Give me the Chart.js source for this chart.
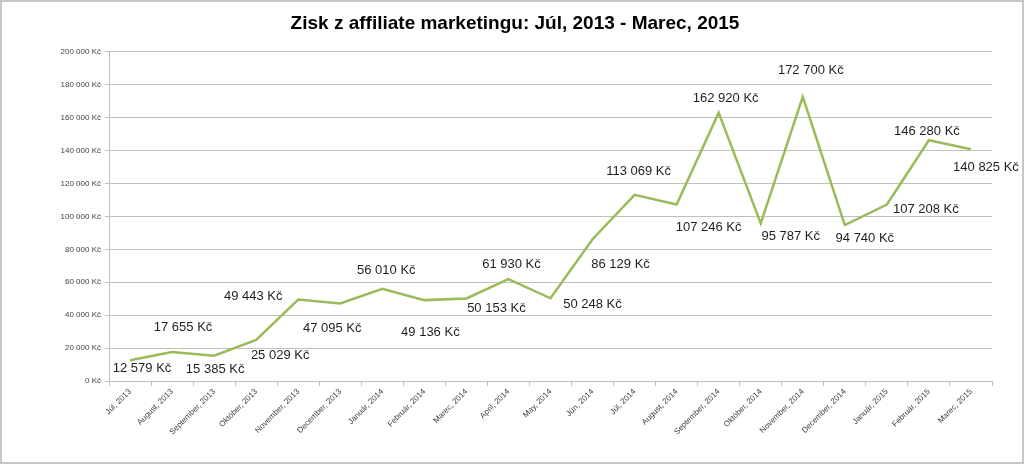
<!DOCTYPE html>
<html>
<head>
<meta charset="utf-8">
<script src="https://cdn.jsdelivr.net/npm/chart.js@4/dist/chart.umd.min.js"></script>
<style>
  html, body { margin: 0; padding: 0; background: #fff; }
  canvas { display: block; }
</style>
</head>
<body>
<canvas id="zisk" width="1024" height="464"></canvas>
<script>
// mesiace (kategórie)
const months = [
  'Júl, 2013', 'August, 2013', 'September, 2013', 'Október, 2013', 'November, 2013',
  'December, 2013', 'Január, 2014', 'Február, 2014', 'Marec, 2014', 'April, 2014',
  'May, 2014', 'Jún, 2014', 'Júl, 2014', 'August, 2014', 'September, 2014',
  'Október, 2014', 'November, 2014', 'December, 2014', 'Január, 2015', 'Február, 2015',
  'Marec, 2015'
];
// zisk v Kč
const profit = [
  12579, 17655, 15385, 25029, 49443, 47095, 56010, 49136, 50153, 61930,
  50248, 86129, 113069, 107246, 162920, 95787, 172700, 94740, 107208, 146280,
  140825
];
// os Y
const yMin = 0;
const yMax = 200000;
const yStep = 20000;

// posun popiskov oproti bodu (px)
const labelDx = [12, 11, 1, 24, -45, -8, 4, 6, 30, 3, 42, 28, 4, 32, 7, 30, 8, 20, 39, -2, 15];
const labelDy = [8, -25, 14, 16, -3, 25, -18, 32, 10, -15, 6, 25, -23, 23, -14, 13, -26, 13, 5, -9, 18];

function kc(v) {
  return String(v).replace(/\B(?=(\d{3})+(?!\d))/g, ' ') + ' Kč';
}

const GRID = '#bfbfbf';

const frame = {
  id: 'frame',
  afterDraw(chart) {
    const c = chart.ctx;
    c.save();
    c.strokeStyle = '#c6c6c6';
    c.lineWidth = 2;
    c.strokeRect(1, 1, chart.width - 2, chart.height - 2);
    c.restore();
  }
};

const valueLabels = {
  id: 'valueLabels',
  afterDatasetsDraw(chart) {
    const c = chart.ctx;
    const meta = chart.getDatasetMeta(0);
    c.save();
    c.font = '13px "Liberation Sans", Arial, sans-serif';
    c.fillStyle = '#1f1f1f';
    c.textAlign = 'center';
    c.textBaseline = 'middle';
    meta.data.forEach((pt, i) => {
      c.fillText(kc(profit[i]), pt.x + labelDx[i], pt.y + labelDy[i]);
    });
    c.restore();
  }
};

new Chart(document.getElementById('zisk'), {
  type: 'line',
  data: {
    labels: months,
    datasets: [{
      data: profit,
      borderColor: '#9bbb59',
      borderWidth: 2.5,
      pointRadius: 0,
      tension: 0
    }]
  },
  options: {
    responsive: false,
    animation: false,
    devicePixelRatio: 1,
    layout: { padding: { left: 38, right: 32, top: 0, bottom: 0 } },
    plugins: {
      legend: { display: false },
      tooltip: { enabled: false },
      title: {
        display: true,
        text: 'Zisk z affiliate marketingu: Júl, 2013 - Marec, 2015',
        color: '#000',
        font: { family: '"Liberation Sans", Arial, sans-serif', size: 19, weight: 'bold' },
        padding: { top: 12, bottom: 17 }
      }
    },
    scales: {
      x: {
        offset: true,
        grid: { offset: true, drawOnChartArea: false, color: GRID, tickLength: 5 },
        border: { color: GRID },
        ticks: {
          autoSkip: false,
          minRotation: 45,
          maxRotation: 45,
          padding: 1,
          color: '#404040',
          font: { family: '"Liberation Sans", Arial, sans-serif', size: 8 }
        },
        afterFit(scale) { scale.height = 83; }
      },
      y: {
        min: yMin,
        max: yMax,
        grid: { color: GRID, tickLength: 4 },
        border: { color: GRID },
        ticks: {
          stepSize: yStep,
          padding: 4,
          color: '#404040',
          font: { family: '"Liberation Sans", Arial, sans-serif', size: 8 },
          callback: (v) => kc(v)
        },
        afterFit(scale) { scale.width = 71; }
      }
    }
  },
  plugins: [valueLabels, frame]
});
</script>
</body>
</html>
